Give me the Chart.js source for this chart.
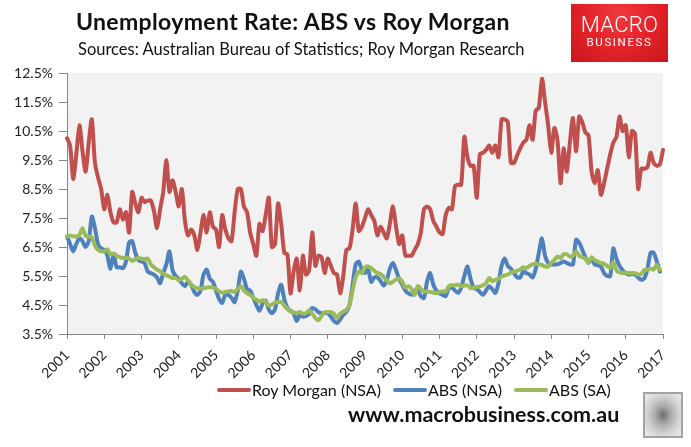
<!DOCTYPE html>
<html>
<head>
<meta charset="utf-8">
<script src="https://cdn.jsdelivr.net/npm/chart.js@4.4.1/dist/chart.umd.min.js"></script>
<style>
  html,body{margin:0;padding:0;background:#fff;}
  #wrap{position:relative;width:691px;height:447px;overflow:hidden;font-family:Lato,"Open Sans",sans-serif;}
  canvas{position:absolute;left:0;top:0;}
  .abs{position:absolute;white-space:nowrap;}
  #title{left:76px;top:8px;font-weight:bold;font-size:23px;line-height:1.2;letter-spacing:0.35px;color:#111;}
  #sub{left:78px;top:40px;font-size:16.5px;line-height:1.2;color:#111;}
  #logo{left:571px;top:4px;width:97px;height:58px;background:radial-gradient(ellipse at 50% 20%,#f0393e 0%,#e3232a 50%,#c9161c 100%);}
  #logo .m{position:absolute;left:0;width:97px;text-align:center;top:10px;color:#fff;font-family:Roboto,sans-serif;font-weight:300;font-size:22px;line-height:22px;letter-spacing:0.3px;}
  #logo .b{position:absolute;left:0;width:97px;text-align:center;top:33px;color:#fff;font-family:Roboto,sans-serif;font-weight:400;font-size:11.5px;line-height:11.5px;letter-spacing:1.6px;}
  .lt{position:absolute;top:380px;font-size:16px;line-height:1.2;color:#111;white-space:nowrap;}
  .sw{position:absolute;top:388px;width:34px;height:4px;border-radius:2px;}
  #url{left:348px;top:402px;font-weight:bold;font-size:21.5px;line-height:1.2;color:#111;}
  #wolf{left:643px;top:392px;width:36px;height:42px;border:2px solid #a3a3a3;background:radial-gradient(ellipse at 50% 50%,#6d6d6d 0%,#a9a9a9 30%,#cfcfcf 60%,#eeeeee 100%);}
</style>
</head>
<body>
<div id="wrap">
  <canvas id="c" width="691" height="447"></canvas>
  <div class="abs" id="title">Unemployment Rate: ABS vs Roy Morgan</div>
  <div class="abs" id="sub">Sources: Australian Bureau of Statistics; Roy Morgan Research</div>
  <div class="abs" id="logo"><div class="m">MACRO</div><div class="b">BUSINESS</div></div>
  <div id="legend"></div>
  <div class="abs" id="url">www.macrobusiness.com.au</div>
  <div class="abs" id="wolf"></div>
</div>
<script>
// ---- categories ----
const years = ['2001','2002','2003','2004','2005','2006','2007','2008','2009','2010','2011','2012','2013','2014','2015','2016','2017'];
const monthNames = ['01','02','03','04','05','06','07','08','09','10','11','12'];
// ---- tick labels for y axis ----
const yTickValues = [3.5,4.5,5.5,6.5,7.5,8.5,9.5,10.5,11.5,12.5];
// ---- series (monthly, Jan 2001 onward) ----
const royMorgan = [
  10.25,10.0,8.85,9.7,10.7,9.8,9.1,10.1,10.9,9.4,8.9,8.5,
  7.8,8.3,7.7,7.35,7.35,7.8,7.45,7.7,7.0,8.4,8.0,7.7,
  8.2,8.05,8.1,8.1,7.75,7.15,7.8,8.4,9.5,8.4,8.8,8.4,
  7.9,8.5,7.4,6.9,7.1,6.9,6.4,7.0,7.6,7.0,7.7,7.2,
  7.1,6.5,7.6,7.1,6.8,6.7,7.7,8.5,8.5,7.9,7.7,7.0,
  6.6,6.2,7.3,7.05,7.6,8.2,6.5,6.6,8.0,7.3,6.3,6.25,
  4.9,5.65,6.1,5.0,6.2,5.55,5.7,7.0,5.85,6.2,6.15,5.6,
  6.1,5.85,5.6,5.55,4.9,5.5,6.4,6.45,7.1,8.0,7.05,7.2,
  7.5,7.8,7.6,7.4,6.9,7.2,7.0,6.8,7.3,7.9,7.2,6.6,
  6.9,6.2,6.2,6.2,6.4,6.6,7.0,7.8,7.9,7.8,7.4,7.2,
  7.0,6.95,7.6,7.85,7.8,8.6,8.65,8.65,10.3,9.6,9.3,9.3,
  8.2,9.7,9.75,9.85,10.0,9.75,10.0,9.6,10.9,10.9,10.8,9.4,
  9.4,9.65,9.9,10.1,10.2,10.7,10.2,11.2,11.3,12.3,11.5,10.7,
  9.75,10.6,10.2,8.7,9.9,9.1,10.1,10.95,9.8,11.0,10.8,10.45,
  10.35,9.1,8.7,9.15,8.3,8.7,9.2,9.7,10.1,10.3,11.0,10.5,
  10.7,9.6,10.5,10.4,8.5,9.2,9.2,9.25,9.75,9.4,9.3,9.35,
  9.85
];
const absNsa = [
  6.86,6.6,6.35,6.6,6.8,6.7,6.5,6.7,7.55,7.15,6.6,6.45,
  6.4,6.2,5.75,6.25,5.8,5.8,5.77,6.0,6.65,6.7,6.3,6.05,
  6.0,5.95,5.65,5.6,5.55,5.45,5.25,5.6,5.9,6.35,5.7,5.5,
  5.4,5.25,5.15,5.3,5.2,4.95,4.85,5.0,5.55,5.72,5.4,5.3,
  5.0,4.7,4.57,4.85,4.85,4.75,4.6,5.0,5.65,5.4,5.05,5.0,
  4.75,4.5,4.3,4.55,4.65,4.35,4.22,4.35,4.9,5.2,4.7,4.4,
  4.3,4.22,3.95,4.15,4.1,4.12,4.2,4.4,4.35,4.25,4.22,4.22,
  4.22,4.1,3.95,3.88,4.0,4.16,4.27,4.5,5.2,5.9,6.0,5.7,
  5.6,5.72,5.3,5.45,5.45,5.33,5.17,5.35,5.75,5.95,5.7,5.4,
  5.2,5.0,4.9,4.85,5.0,5.0,4.8,4.74,5.31,5.6,5.2,5.0,
  4.9,4.85,4.8,5.1,5.1,5.0,4.92,5.1,5.5,5.83,5.4,5.1,
  5.05,4.95,4.85,5.0,5.15,5.05,4.92,5.25,5.85,6.1,5.85,5.75,
  5.6,5.45,5.45,5.65,5.6,5.55,5.45,5.75,6.3,6.8,6.2,5.95,
  5.9,5.9,5.9,5.95,6.0,5.95,5.9,5.9,6.75,6.65,6.4,6.15,
  5.95,6.1,5.9,5.87,5.83,5.6,5.5,5.5,6.45,6.1,5.85,5.7,
  5.6,5.55,5.57,5.55,5.45,5.37,5.42,5.75,6.3,6.3,6.0,5.65
];
const absSa = [
  6.86,6.9,6.87,6.86,6.92,7.15,6.88,6.86,6.83,6.55,6.4,6.35,
  6.35,6.42,6.25,6.28,6.2,6.15,6.12,6.14,6.1,6.02,6.08,6.12,
  6.1,6.08,6.1,5.9,5.8,5.72,5.66,5.58,5.52,5.48,5.43,5.43,
  5.35,5.4,5.47,5.35,5.2,5.12,5.08,5.07,5.08,5.1,5.12,5.1,
  5.05,4.97,4.92,4.95,4.97,4.98,4.95,5.05,5.15,5.0,4.9,4.85,
  4.75,4.68,4.62,4.66,4.6,4.48,4.52,4.58,4.6,4.6,4.48,4.36,
  4.28,4.25,4.22,4.26,4.2,4.22,4.32,4.2,4.05,3.97,4.12,4.25,
  4.26,4.25,4.2,4.05,4.2,4.27,4.33,4.5,5.0,5.45,5.65,5.6,
  5.8,5.83,5.77,5.68,5.6,5.57,5.47,5.35,5.25,5.3,5.38,5.42,
  5.3,5.1,5.15,5.05,4.85,5.15,5.05,4.97,4.97,4.95,4.93,4.91,
  4.95,4.97,4.97,5.15,5.18,5.18,5.2,5.15,5.17,5.18,5.08,5.1,
  5.12,5.14,5.18,5.25,5.43,5.32,5.37,5.4,5.48,5.52,5.55,5.62,
  5.65,5.68,5.72,5.8,5.77,5.85,5.9,5.92,5.9,5.88,5.83,5.83,
  5.95,6.05,6.17,6.12,6.25,6.25,6.17,6.2,6.35,6.2,6.15,6.1,
  5.97,6.15,6.05,6.0,5.95,5.92,5.85,5.77,5.98,5.7,5.62,5.6,
  5.62,5.6,5.6,5.6,5.55,5.57,5.7,5.73,5.75,5.72,5.88,5.72
];
const seriesNames = ['Roy Morgan (NSA)','ABS (NSA)','ABS (SA)'];
const seriesColors = ['#c0504d','#4f81bd','#9bbb59'];

// month categories built from the year list (Jan 2001 ... Jan 2017)
const months = [];
years.forEach((y, k) => {
  if (k < years.length - 1) monthNames.forEach(m => months.push(y + '-' + m));
  else months.push(y + '-01');
});

const bgPlugin = {
  id: 'plotBg',
  beforeDraw(chart) {
    const a = chart.chartArea, c = chart.ctx;
    c.save(); c.fillStyle = '#f2f2f2';
    c.fillRect(a.left, a.top, a.right - a.left, a.bottom - a.top);
    c.restore();
  }
};

const tickFont = {family: 'Lato, "Open Sans", sans-serif', size: 14};
const axisGray = '#868686';

new Chart(document.getElementById('c'), {
  type: 'line',
  data: {
    labels: months,
    datasets: [royMorgan, absNsa, absSa].map((d, k) => ({
      label: seriesNames[k], data: d, borderColor: seriesColors[k], backgroundColor: seriesColors[k],
      borderWidth: 4, pointRadius: 0, tension: 0.25, fill: false, order: 2 - k,
      borderCapStyle: 'round', borderJoinStyle: 'round'
    }))
  },
  options: {
    responsive: false, animation: false, devicePixelRatio: 1,
    layout: {padding: {top: 73, right: 28, bottom: 53, left: 0}},
    plugins: {legend: {display: false}, tooltip: {enabled: false}},
    scales: {
      x: {
        ticks: {autoSkip: false, maxRotation: 45, minRotation: 45, font: tickFont, color: '#222', padding: 8,
          callback: (v, i) => (i % 12 === 0 ? months[i].slice(0, 4) : null)},
        grid: {drawOnChartArea: false, drawTicks: true, tickLength: 5, color: axisGray},
        border: {color: axisGray, width: 1},
        afterFit: s => { s.height = 60; }
      },
      y: {
        min: 3.5, max: 12.5,
        afterBuildTicks: s => { s.ticks = yTickValues.map(v => ({value: v})); },
        ticks: {font: tickFont, color: '#222', padding: 6, callback: v => Number(v).toFixed(1) + '%'},
        grid: {drawOnChartArea: false, drawTicks: true, tickLength: 8, color: axisGray},
        border: {color: axisGray, width: 1},
        afterFit: s => { s.width = 67; }
      }
    }
  },
  plugins: [bgPlugin]
});

// legend (HTML) built from series names/colors
const lg = document.getElementById('legend');
const swatchX = [217, 393, 514];
seriesNames.forEach((n, k) => {
  const s = document.createElement('div');
  s.className = 'sw'; s.style.left = swatchX[k] + 'px'; s.style.background = seriesColors[k];
  lg.appendChild(s);
  const t = document.createElement('div');
  t.className = 'lt'; t.style.left = (swatchX[k] + 35) + 'px'; t.textContent = n;
  lg.appendChild(t);
});
</script>
</body>
</html>
